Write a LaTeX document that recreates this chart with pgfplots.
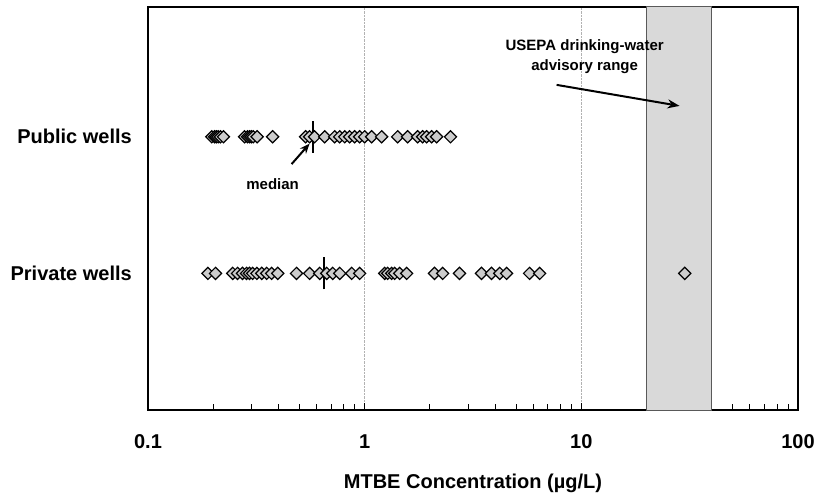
\documentclass[border=0pt]{standalone}
\usepackage{fontspec}
\setmainfont{Liberation Sans}
\usepackage{pgfplots}
\pgfplotsset{compat=1.18}
\usetikzlibrary{arrows.meta}
\definecolor{mk}{HTML}{CCCCCC}
\definecolor{band}{HTML}{D9D9D9}
\begin{document}
\begin{tikzpicture}
\begin{axis}[
  scale only axis, width=650pt, height=403pt,
  xmode=log, xmin=0.1, xmax=100, ymin=0, ymax=2.95,
  axis line style={line width=1.2pt},
  xtick={0.1,1,10,100}, xticklabels={0.1,1,10,100},
  minor xtick={0.2,0.3,0.4,0.5,0.6,0.7,0.8,0.9,2,3,4,5,6,7,8,9,20,30,40,50,60,70,80,90},
  xtick pos=bottom, tick align=inside,
  major tick length=7pt, minor tick length=6pt,
  xtick style={black, line width=0.9pt},
  xmajorgrids, major grid style={densely dotted, gray!60, line width=0.6pt},
  /pgf/number format/assume math mode=true,
  xticklabel style={font=\fontsize{20}{22}\selectfont\bfseries, anchor=base, inner sep=0pt, yshift=-38pt},
  ytick={1,2}, yticklabels={Private wells, Public wells},
  ytick style={draw=none},
  yticklabel style={font=\fontsize{20}{22}\selectfont\bfseries, anchor=base east, inner sep=0pt, xshift=-16pt, yshift=-7pt},
  xlabel={MTBE Concentration (µg/L)},
  xlabel style={font=\fontsize{20}{22}\selectfont\bfseries, at={(axis description cs:0.5,0)}, anchor=base, yshift=-78pt},
  clip=false,
]
\addplot[fill=band, draw=black!65, line width=1pt] coordinates {(20,0) (20,2.95) (40,2.95) (40,0)} -- cycle;
\addplot[only marks, mark=square*, mark size=4.3pt, mark options={rotate=45, fill=mk, draw=black, line width=1.2pt}] coordinates {
(0.197,2)(0.203,2)(0.207,2)(0.211,2)(0.216,2)(0.223,2)(0.279,2)(0.288,2)(0.294,2)(0.300,2)(0.306,2)(0.319,2)(0.376,2)
(0.534,2)(0.557,2)(0.587,2)(0.654,2)(0.727,2)(0.767,2)(0.809,2)(0.852,2)(0.899,2)(0.948,2)(1.0,2)(1.077,2)(1.198,2)
(1.42,2)(1.579,2)(1.756,2)(1.851,2)(1.932,2)(2.037,2)(2.148,2)(2.49,2)};
\addplot[only marks, mark=square*, mark size=4.3pt, mark options={rotate=45, fill=mk, draw=black, line width=1.2pt}] coordinates {
(0.189,1)(0.205,1)(0.246,1)(0.259,1)(0.273,1)(0.285,1)(0.294,1)(0.304,1)(0.318,1)(0.335,1)(0.353,1)(0.372,1)(0.397,1)
(0.485,1)(0.557,1)(0.620,1)(0.668,1)(0.712,1)(0.767,1)(0.871,1)(0.948,1)(1.237,1)(1.277,1)(1.332,1)(1.375,1)(1.45,1)
(1.562,1)(2.10,1)(2.29,1)(2.74,1)(3.46,1)(3.85,1)(4.20,1)(4.52,1)(5.77,1)(6.42,1)(30.0,1)};
\addplot[black, line width=2pt] coordinates {(0.576,1.883) (0.576,2.117)};
\addplot[black, line width=2pt] coordinates {(0.647,0.883) (0.647,1.117)};
\node[font=\fontsize{15}{17}\selectfont\bfseries] at (axis cs:0.376,1.657) {median};
\draw[-{Stealth[length=10pt,width=8pt]}, line width=2pt] (axis cs:0.46,1.80) -- (axis cs:0.557,1.95);
\node[font=\fontsize{15}{20}\selectfont\bfseries, align=center] at (axis cs:10.36,2.584) {USEPA drinking-water\\advisory range};
\draw[-{Stealth[length=12pt,width=9pt]}, line width=2pt] (axis cs:7.69,2.38) -- (axis cs:28.4,2.226);
\end{axis}
\path (-148pt,-89pt) rectangle (670pt,410pt);
\end{tikzpicture}
\end{document}
